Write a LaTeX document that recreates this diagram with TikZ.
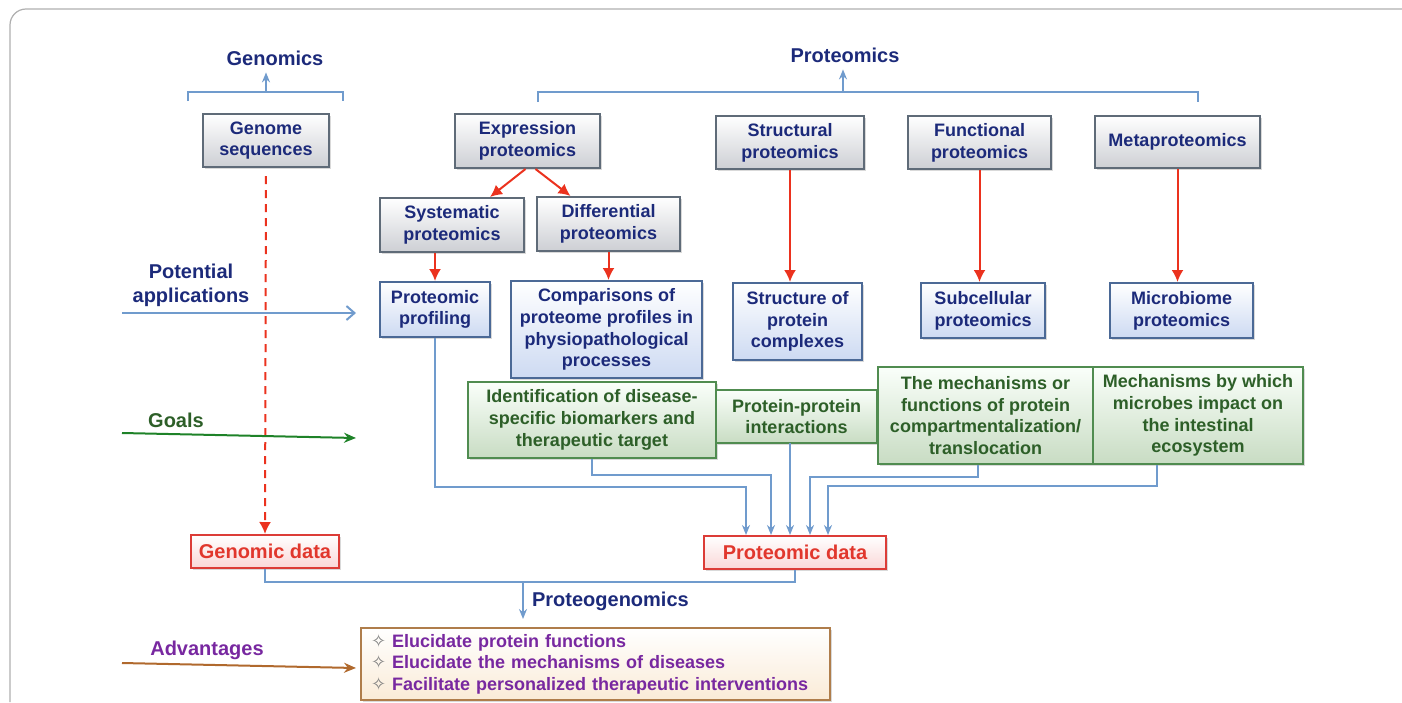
\documentclass[tikz,border=0pt]{standalone}
\usepackage{fontspec}
\setmainfont{Liberation Sans}
\newfontfamily\symfont{DejaVu Sans}
\usetikzlibrary{arrows.meta,shadows}
\definecolor{navy}{RGB}{28,42,122}
\definecolor{boxgray}{RGB}{95,107,120}
\definecolor{fillgray}{RGB}{205,207,212}
\definecolor{boxblue}{RGB}{75,105,150}
\definecolor{fillblue}{RGB}{205,218,242}
\definecolor{boxgreen}{RGB}{80,140,80}
\definecolor{fillgreen}{RGB}{200,220,195}
\definecolor{textgreen}{RGB}{45,95,40}
\definecolor{boxred}{RGB}{220,60,55}
\definecolor{fillred}{RGB}{250,215,215}
\definecolor{textred}{RGB}{225,55,45}
\definecolor{advborder}{RGB}{175,125,75}
\definecolor{filladv}{RGB}{250,235,215}
\definecolor{advpurple}{RGB}{120,40,160}
\definecolor{advbrown}{RGB}{176,105,45}
\definecolor{goalgreen}{RGB}{30,130,40}
\definecolor{arrred}{RGB}{235,50,30}
\definecolor{linkblue}{RGB}{112,155,205}
\definecolor{framegray}{RGB}{175,175,175}
\tikzset{
	box/.style={draw, line width=1pt, align=center, inner sep=2pt,
		font=\bfseries\fontsize{9}{10.85}\selectfont,
		drop shadow={opacity=0.3, shadow xshift=1pt, shadow yshift=-1pt}},
	graybox/.style={box, draw=boxgray, top color=white, bottom color=fillgray, text=navy},
	bluebox/.style={box, draw=boxblue, top color=white, bottom color=fillblue, text=navy},
	greenbox/.style={box, draw=boxgreen, top color=green!2, bottom color=fillgreen, text=textgreen},
	redbox/.style={box, draw=boxred, top color=white, bottom color=fillred, text=textred,
		font=\bfseries\fontsize{10}{12}\selectfont},
	advbox/.style={box, draw=advborder, top color=white, bottom color=filladv, text=advpurple,
		align=left, inner xsep=5pt},
	head/.style={font=\bfseries\fontsize{10}{12}\selectfont, align=center},
	redarr/.style={draw=arrred, line width=1pt, -{Latex[length=6pt,width=6pt]}},
	link/.style={draw=linkblue, line width=1pt},
	linkarr/.style={link, -{Stealth[length=5pt,width=4pt]}},
}
\begin{document}
\begin{tikzpicture}[x=0.5pt,y=-0.5pt]
	\useasboundingbox (0,0) rectangle (1402,702);
	\draw[framegray, line width=0.6pt, rounded corners=8] (10,702) -- (10,9) -- (1402,9);
	% headings
	\node[head, text=navy] (genomics) at (275,58) {Genomics};
	\node[head, text=navy] (proteomics) at (845,55) {Proteomics};
	\draw[link] (188,101) -- (188,92) -- (343,92) -- (343,101);
	\draw[link] (538,102) -- (538,92) -- (1198,92) -- (1198,102);
	\coordinate (gtop) at (266,92);
	\coordinate (ptop) at (843,92);
	\draw[linkarr] (gtop) -- (gtop |- genomics.south);
	\draw[linkarr] (ptop) -- (ptop |- proteomics.south);
	% boxes
	\node[graybox, minimum width=63pt, minimum height=26.5pt] (gen) at (266,140.5) {Genome\\sequences};
	\node[graybox, minimum width=72.5pt, minimum height=27pt] (expr) at (527.5,141) {Expression\\proteomics};
	\node[graybox, minimum width=74pt, minimum height=26.5pt] (struc) at (790,142.5) {Structural\\proteomics};
	\node[graybox, minimum width=71.5pt, minimum height=26.5pt] (func) at (979.5,142.5) {Functional\\proteomics};
	\node[graybox, minimum width=82.5pt, minimum height=26pt] (meta) at (1177.5,142) {Metaproteomics};
	\node[graybox, minimum width=72pt, minimum height=27pt] (syst) at (452,225) {Systematic\\proteomics};
	\node[graybox, minimum width=71.5pt, minimum height=27pt] (diff) at (608.5,224) {Differential\\proteomics};
	\node[bluebox, minimum width=55pt, minimum height=27.5pt] (prof) at (435,309.5) {Proteomic\\profiling};
	\node[bluebox, minimum width=95.5pt, minimum height=48.5pt] (comp) at (606.5,329.5) {Comparisons of\\proteome profiles in\\physiopathological\\processes};
	\node[bluebox, minimum width=64.5pt, minimum height=38.5pt] (cplx) at (797.5,321.5) {Structure of\\protein\\complexes};
	\node[bluebox, minimum width=62pt, minimum height=27.5pt] (subc) at (983,310.5) {Subcellular\\proteomics};
	\node[bluebox, minimum width=71.5pt, minimum height=27.5pt] (micr) at (1181.5,310.5) {Microbiome\\proteomics};
	\node[greenbox, minimum width=124pt, minimum height=38pt] (ident) at (592,420) {Identification of disease-\\specific biomarkers and\\therapeutic target};
	\node[greenbox, minimum width=80.5pt, minimum height=26.5pt] (ppi) at (796.5,416.5) {Protein-protein\\interactions};
	\node[greenbox, minimum width=107.5pt, minimum height=48.5pt] (mech) at (985.5,415.5) {The mechanisms or\\functions of protein\\compartmentalization/\\translocation};
	\node[greenbox, minimum width=105pt, minimum height=48.5pt] (micb) at (1198,415.5) {Mechanisms by which\\microbes impact on\\the intestinal\\ecosystem};
	\node[redbox, minimum width=74pt, minimum height=16.5pt] (gdata) at (265,551.5) {Genomic data};
	\node[redbox, minimum width=91pt, minimum height=16.5pt] (pdata) at (795,552.5) {Proteomic data};
	\node[advbox, text width=224.5pt, minimum height=36pt] (adv) at (595.5,664) {{\symfont\color{gray}✧} Elucidate protein functions\\{\symfont\color{gray}✧} Elucidate the mechanisms of diseases\\{\symfont\color{gray}✧} Facilitate personalized therapeutic interventions};
	% red arrows
	\draw[redarr] ([xshift=-1pt]expr.south) -- ([xshift=19pt]syst.north);
	\draw[redarr] ([xshift=4pt]expr.south) -- ([xshift=-19pt]diff.north);
	\draw[redarr] (syst.south -| prof.north) -- (prof.north);
	\draw[redarr] (diff.south) -- (diff.south |- comp.north);
	\draw[redarr] (struc.south) -- (struc.south |- cplx.north);
	\draw[redarr] (func.south) -- (func.south |- subc.north);
	\draw[redarr] (meta.south) -- (meta.south |- micr.north);
	\draw[redarr, dash pattern=on 4pt off 3pt, shorten <=4pt] (gen.south) -- (gdata.north);
	% side labels
	\node[head, text=navy] (apps) at (191,285) {Potential\\applications};
	\node[head, text=textgreen] (goals) at (176,420) {Goals};
	\node[head, text=advpurple] (advs) at (207,650) {Advantages};
	\coordinate (pa0) at (122,313);
	\coordinate (pa1) at (356,313);
	\coordinate (go0) at (122,433);
	\coordinate (go1) at (356,438);
	\coordinate (ad0) at (122,663);
	\coordinate (ad1) at (356,668);
	\draw[draw=linkblue, line width=1pt, -{Straight Barb[length=4pt,width=7pt]}] (pa0) -- (pa1);
	\draw[draw=goalgreen, line width=1pt, -{Stealth[length=6pt,width=5pt]}] (go0) -- (go1);
	\draw[draw=advbrown, line width=1pt, -{Stealth[length=6pt,width=5pt]}] (ad0) -- (ad1);
	% links to proteomic data
	\coordinate (b1) at (746,487);
	\coordinate (b2) at (771,475);
	\coordinate (b3) at (790,443);
	\coordinate (b4) at (810,477);
	\coordinate (b5) at (828,486);
	\draw[linkarr] (prof.south) |- (b1) -- (b1 |- pdata.north);
	\draw[linkarr] (ident.south) |- (b2) -- (b2 |- pdata.north);
	\draw[linkarr] (b3) -- (b3 |- pdata.north);
	\draw[linkarr] ([xshift=-4pt]mech.south) |- (b4) -- (b4 |- pdata.north);
	\draw[linkarr] ([xshift=-20.5pt]micb.south) |- (b5) -- (b5 |- pdata.north);
	% proteogenomics
	\coordinate (jn) at (523,582);
	\draw[link] (gdata.south) |- (jn) -| (pdata.south);
	\draw[linkarr, shorten >=4pt] (jn) -- (jn |- adv.north);
	\node[head, text=navy, anchor=west] (pg) at (525,601) {Proteogenomics};
\end{tikzpicture}
\end{document}
